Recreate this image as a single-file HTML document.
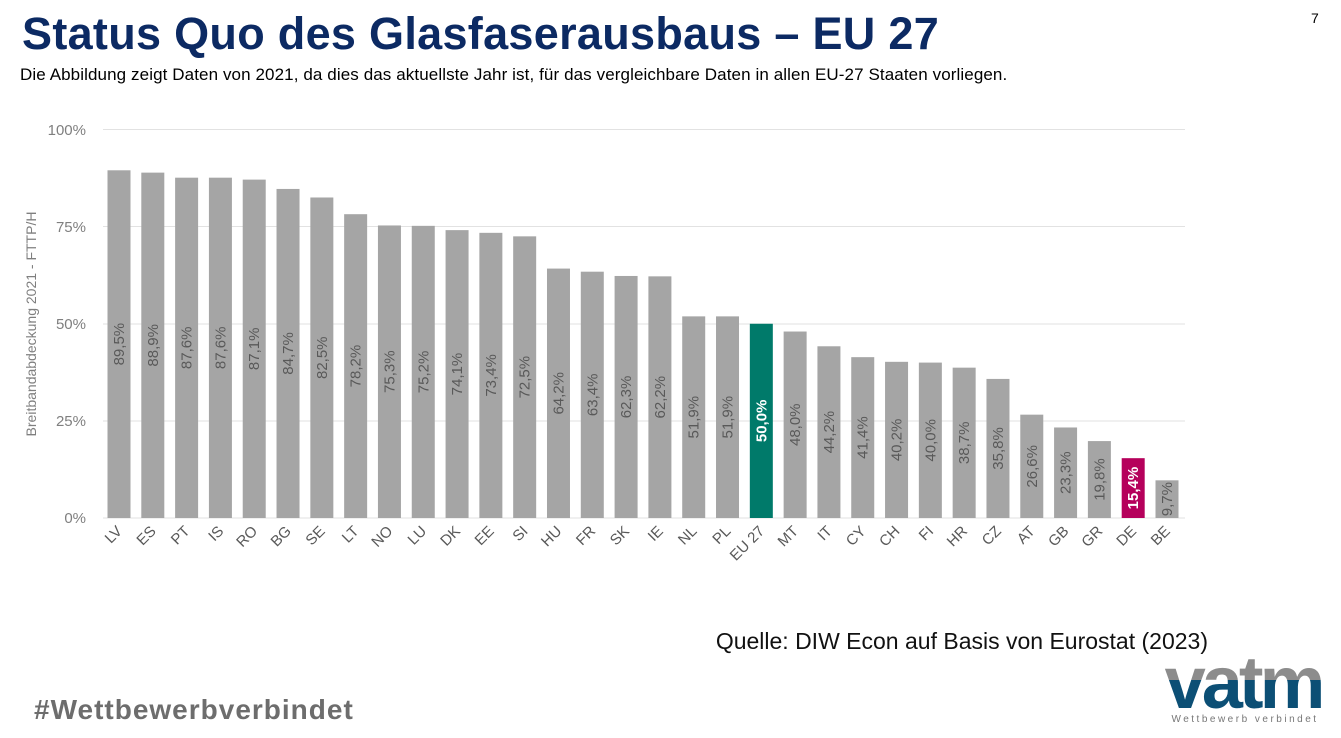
<!DOCTYPE html>
<html><head><meta charset="utf-8"><style>
body{margin:0;width:1341px;height:738px;background:#fff;overflow:hidden;position:relative;font-family:"Liberation Sans",sans-serif}
.t{position:absolute;left:22px;top:8px;font-size:45px;font-weight:bold;color:#0c2a63;letter-spacing:0.3px}
.s{position:absolute;left:20px;top:65px;font-size:17px;color:#000;letter-spacing:0.1px}
.n{position:absolute;left:1311px;top:10px;font-size:14px;color:#000}
.h{position:absolute;left:34px;top:694px;font-size:28px;font-weight:bold;color:#6d6d6d;letter-spacing:1px}
</style></head><body>
<div class="t">Status Quo des Glasfaserausbaus – EU 27</div>
<div class="s">Die Abbildung zeigt Daten von 2021, da dies das aktuellste Jahr ist, für das vergleichbare Daten in allen EU-27 Staaten vorliegen.</div>
<div class="n">7</div>
<svg width="1341" height="738" style="position:absolute;left:0;top:0">
<defs>
<clipPath id="top"><rect x="1150" y="650" width="190" height="30"/></clipPath>
<clipPath id="bot"><rect x="1150" y="680" width="190" height="30"/></clipPath>
</defs>
<g stroke="#e2e2e2" stroke-width="1">
<line x1="103" x2="1185" y1="129.5" y2="129.5"/><line x1="103" x2="1185" y1="226.5" y2="226.5"/><line x1="103" x2="1185" y1="324" y2="324"/><line x1="103" x2="1185" y1="421" y2="421"/><line x1="103" x2="1185" y1="518" y2="518"/>
</g>
<g font-family="Liberation Sans,sans-serif" font-size="15" fill="#7f7f7f" text-anchor="end">
<text x="86" y="135">100%</text><text x="86" y="232">75%</text><text x="86" y="329">50%</text><text x="86" y="426">25%</text><text x="86" y="523">0%</text>
</g>
<text transform="translate(36,324) rotate(-90)" text-anchor="middle" font-size="14" fill="#7f7f7f" font-family="Liberation Sans,sans-serif">Breitbandabdeckung 2021 - FTTP/H</text>
<g id="bars" font-family="Liberation Sans,sans-serif" font-size="15"></g>
<text x="1208" y="649" text-anchor="end" font-size="23" fill="#111" font-family="Liberation Sans,sans-serif">Quelle: DIW Econ auf Basis von Eurostat (2023)</text>
<g font-family="Liberation Sans,sans-serif" font-size="74" font-weight="bold" letter-spacing="-4">
<text x="1243" y="708" text-anchor="middle" fill="#8c8c8c" clip-path="url(#top)">vatm</text>
<text x="1243" y="708" text-anchor="middle" fill="#0c4f75" clip-path="url(#bot)">vatm</text>
</g>
<text x="1245" y="722" text-anchor="middle" font-size="10" fill="#777" letter-spacing="2.5" font-family="Liberation Sans,sans-serif">Wettbewerb verbindet</text>
</svg>
<div class="h">#Wettbewerbverbindet</div>
<script>
var d=[["LV",89.5],["ES",88.9],["PT",87.6],["IS",87.6],["RO",87.1],["BG",84.7],["SE",82.5],["LT",78.2],["NO",75.3],["LU",75.2],["DK",74.1],["EE",73.4],["SI",72.5],["HU",64.2],["FR",63.4],["SK",62.3],["IE",62.2],["NL",51.9],["PL",51.9],["EU 27",50.0],["MT",48.0],["IT",44.2],["CY",41.4],["CH",40.2],["FI",40.0],["HR",38.7],["CZ",35.8],["AT",26.6],["GB",23.3],["GR",19.8],["DE",15.4],["BE",9.7]];
var s="";var p=(1167-119)/31;
d.forEach(function(e,i){var cx=119+i*p,h=e[1]*3.885,y=518-h;
var c=e[0]=="EU 27"?"#007a6a":e[0]=="DE"?"#b5005b":"#a5a5a5";
var hl=(e[0]=="EU 27"||e[0]=="DE");
var tc=hl?"#fff":"#595959";var fw=hl?"bold":"normal";
s+='<rect x="'+(cx-11.5)+'" y="'+y+'" width="23" height="'+h+'" fill="'+c+'"/>';
s+='<text transform="translate('+(cx+5)+','+(518-h/2)+') rotate(-90)" text-anchor="middle" fill="'+tc+'" font-weight="'+fw+'">'+e[1].toFixed(1).replace(".",",")+'%</text>';
s+='<text transform="translate('+(cx+4)+',532) rotate(-45)" text-anchor="end" fill="#595959" font-size="15">'+e[0]+'</text>';});
document.getElementById("bars").innerHTML=s;
</script>
</body></html>
